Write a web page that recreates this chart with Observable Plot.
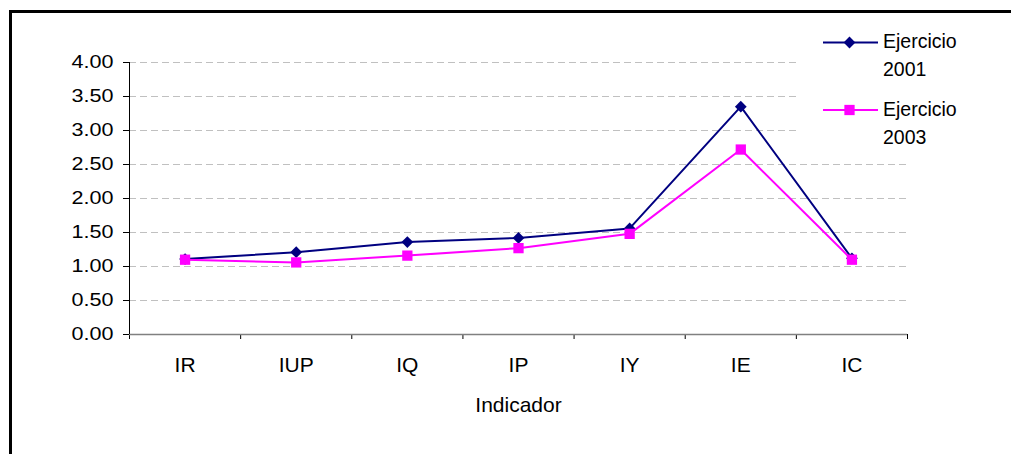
<!DOCTYPE html>
<html>
<head>
<meta charset="utf-8">
<script src="https://cdn.jsdelivr.net/npm/d3@7"></script>
<script src="https://cdn.jsdelivr.net/npm/@observablehq/plot@0.6"></script>
<style>
  html, body { margin: 0; padding: 0; background: #fff; overflow: hidden; }
  #wrap { position: relative; width: 1011px; height: 454px; overflow: hidden; font-family: "Liberation Sans", Arial, sans-serif; }
  #frame { position: absolute; left: 9px; top: 10px; width: 1100px; height: 500px; border-top: 3px solid #000; border-left: 3px solid #000; box-sizing: border-box; }
  #chart { position: absolute; left: 0; top: 0; }
  #legend { position: absolute; left: 0; top: 0; }
</style>
</head>
<body>
<div id="wrap">
  <div id="frame"></div>
  <div id="chart"></div>
  <svg id="legend" width="1011" height="454"></svg>
</div>
<script>
const categories = ["IR", "IUP", "IQ", "IP", "IY", "IE", "IC"];
const ejercicio2001 = [1.11, 1.21, 1.36, 1.42, 1.56, 3.35, 1.12];
const ejercicio2003 = [1.10, 1.06, 1.16, 1.27, 1.48, 2.72, 1.10];
const yTicks = [0, 0.5, 1, 1.5, 2, 2.5, 3, 3.5, 4];
const seriesNames = [["Ejercicio", "2001"], ["Ejercicio", "2003"]];
const seriesColors = ["#000080", "#FF00FF"];
const seriesSymbols = ["diamond2", "square"];
const xTitle = "Indicador";

const rows2001 = categories.map((c, i) => ({cat: c, i, value: ejercicio2001[i]}));
const rows2003 = categories.map((c, i) => ({cat: c, i, value: ejercicio2003[i]}));
const xPos = d => d.i + 0.5;

const chart = Plot.plot({
  width: 1011,
  height: 454,
  marginLeft: 129,
  marginRight: 104,
  marginTop: 62,
  marginBottom: 120,
  style: {fontFamily: "'Liberation Sans', Arial, sans-serif", background: "transparent", color: "#000"},
  x: {type: "linear", domain: [0, categories.length]},
  y: {domain: [0, 4]},
  marks: [
    Plot.ruleY(yTicks.filter(d => d > 0), {stroke: "#c0c0c0", strokeDasharray: "7,4", strokeWidth: 1}),
    Plot.axisY({ticks: yTicks, tickSize: 6, tickPadding: 10, tickFormat: d => d.toFixed(2), fontSize: 18.5, label: null}),
    Plot.axisX({ticks: d3.range(0, categories.length + 1), tickSize: 5, tickFormat: () => "", label: null}),
    Plot.axisX({ticks: categories.map((c, i) => i + 0.5), tickSize: 0, tickPadding: 23, tickFormat: v => categories[Math.round(v - 0.5)], fontSize: 21, label: null}),
    Plot.ruleY([0], {stroke: "#808080", strokeWidth: 1.5}),
    Plot.ruleX([0], {stroke: "#000", strokeWidth: 1}),
    Plot.line(rows2001, {x: xPos, y: "value", stroke: seriesColors[0], strokeWidth: 2}),
    Plot.dot(rows2001, {x: xPos, y: "value", symbol: seriesSymbols[0], r: 5.3, fill: seriesColors[0]}),
    Plot.line(rows2003, {x: xPos, y: "value", stroke: seriesColors[1], strokeWidth: 2}),
    Plot.dot(rows2003, {x: xPos, y: "value", symbol: seriesSymbols[1], r: 5.8, fill: seriesColors[1]}),
    Plot.text([xTitle], {frameAnchor: "bottom", dy: 71, fontSize: 21, lineAnchor: "middle"})
  ]
});
document.getElementById("chart").appendChild(chart);

// stretch y tick labels horizontally like the original
chart.querySelectorAll('g[aria-label="y-axis tick label"] text').forEach(t => {
  t.setAttribute("textLength", 42);
  t.setAttribute("lengthAdjust", "spacingAndGlyphs");
});

// legend
const lg = d3.select("#legend");
lg.append("rect").attr("x", 798).attr("y", 18).attr("width", 213).attr("height", 135).attr("fill", "#fff");
const symMap = {diamond2: d3.symbolDiamond2, square: d3.symbolSquare};
const symSize = [Math.PI * 5.3 * 5.3, Math.PI * 5.8 * 5.8];
seriesNames.forEach((name, k) => {
  const y = 42.5 + k * 67.5;
  const g = lg.append("g");
  g.append("line").attr("x1", 823).attr("x2", 878).attr("y1", y).attr("y2", y)
    .attr("stroke", seriesColors[k]).attr("stroke-width", 2);
  g.append("path").attr("transform", `translate(849.5,${y})`)
    .attr("d", d3.symbol(symMap[seriesSymbols[k]], symSize[k])())
    .attr("fill", seriesColors[k]);
  name.forEach((line, j) => {
    g.append("text").attr("x", 883).attr("y", y + 5.8 + j * 27.7)
      .attr("font-size", 19.5).attr("font-family", "'Liberation Sans', Arial, sans-serif")
      .attr("fill", "#000").text(line);
  });
});
</script>
</body>
</html>
